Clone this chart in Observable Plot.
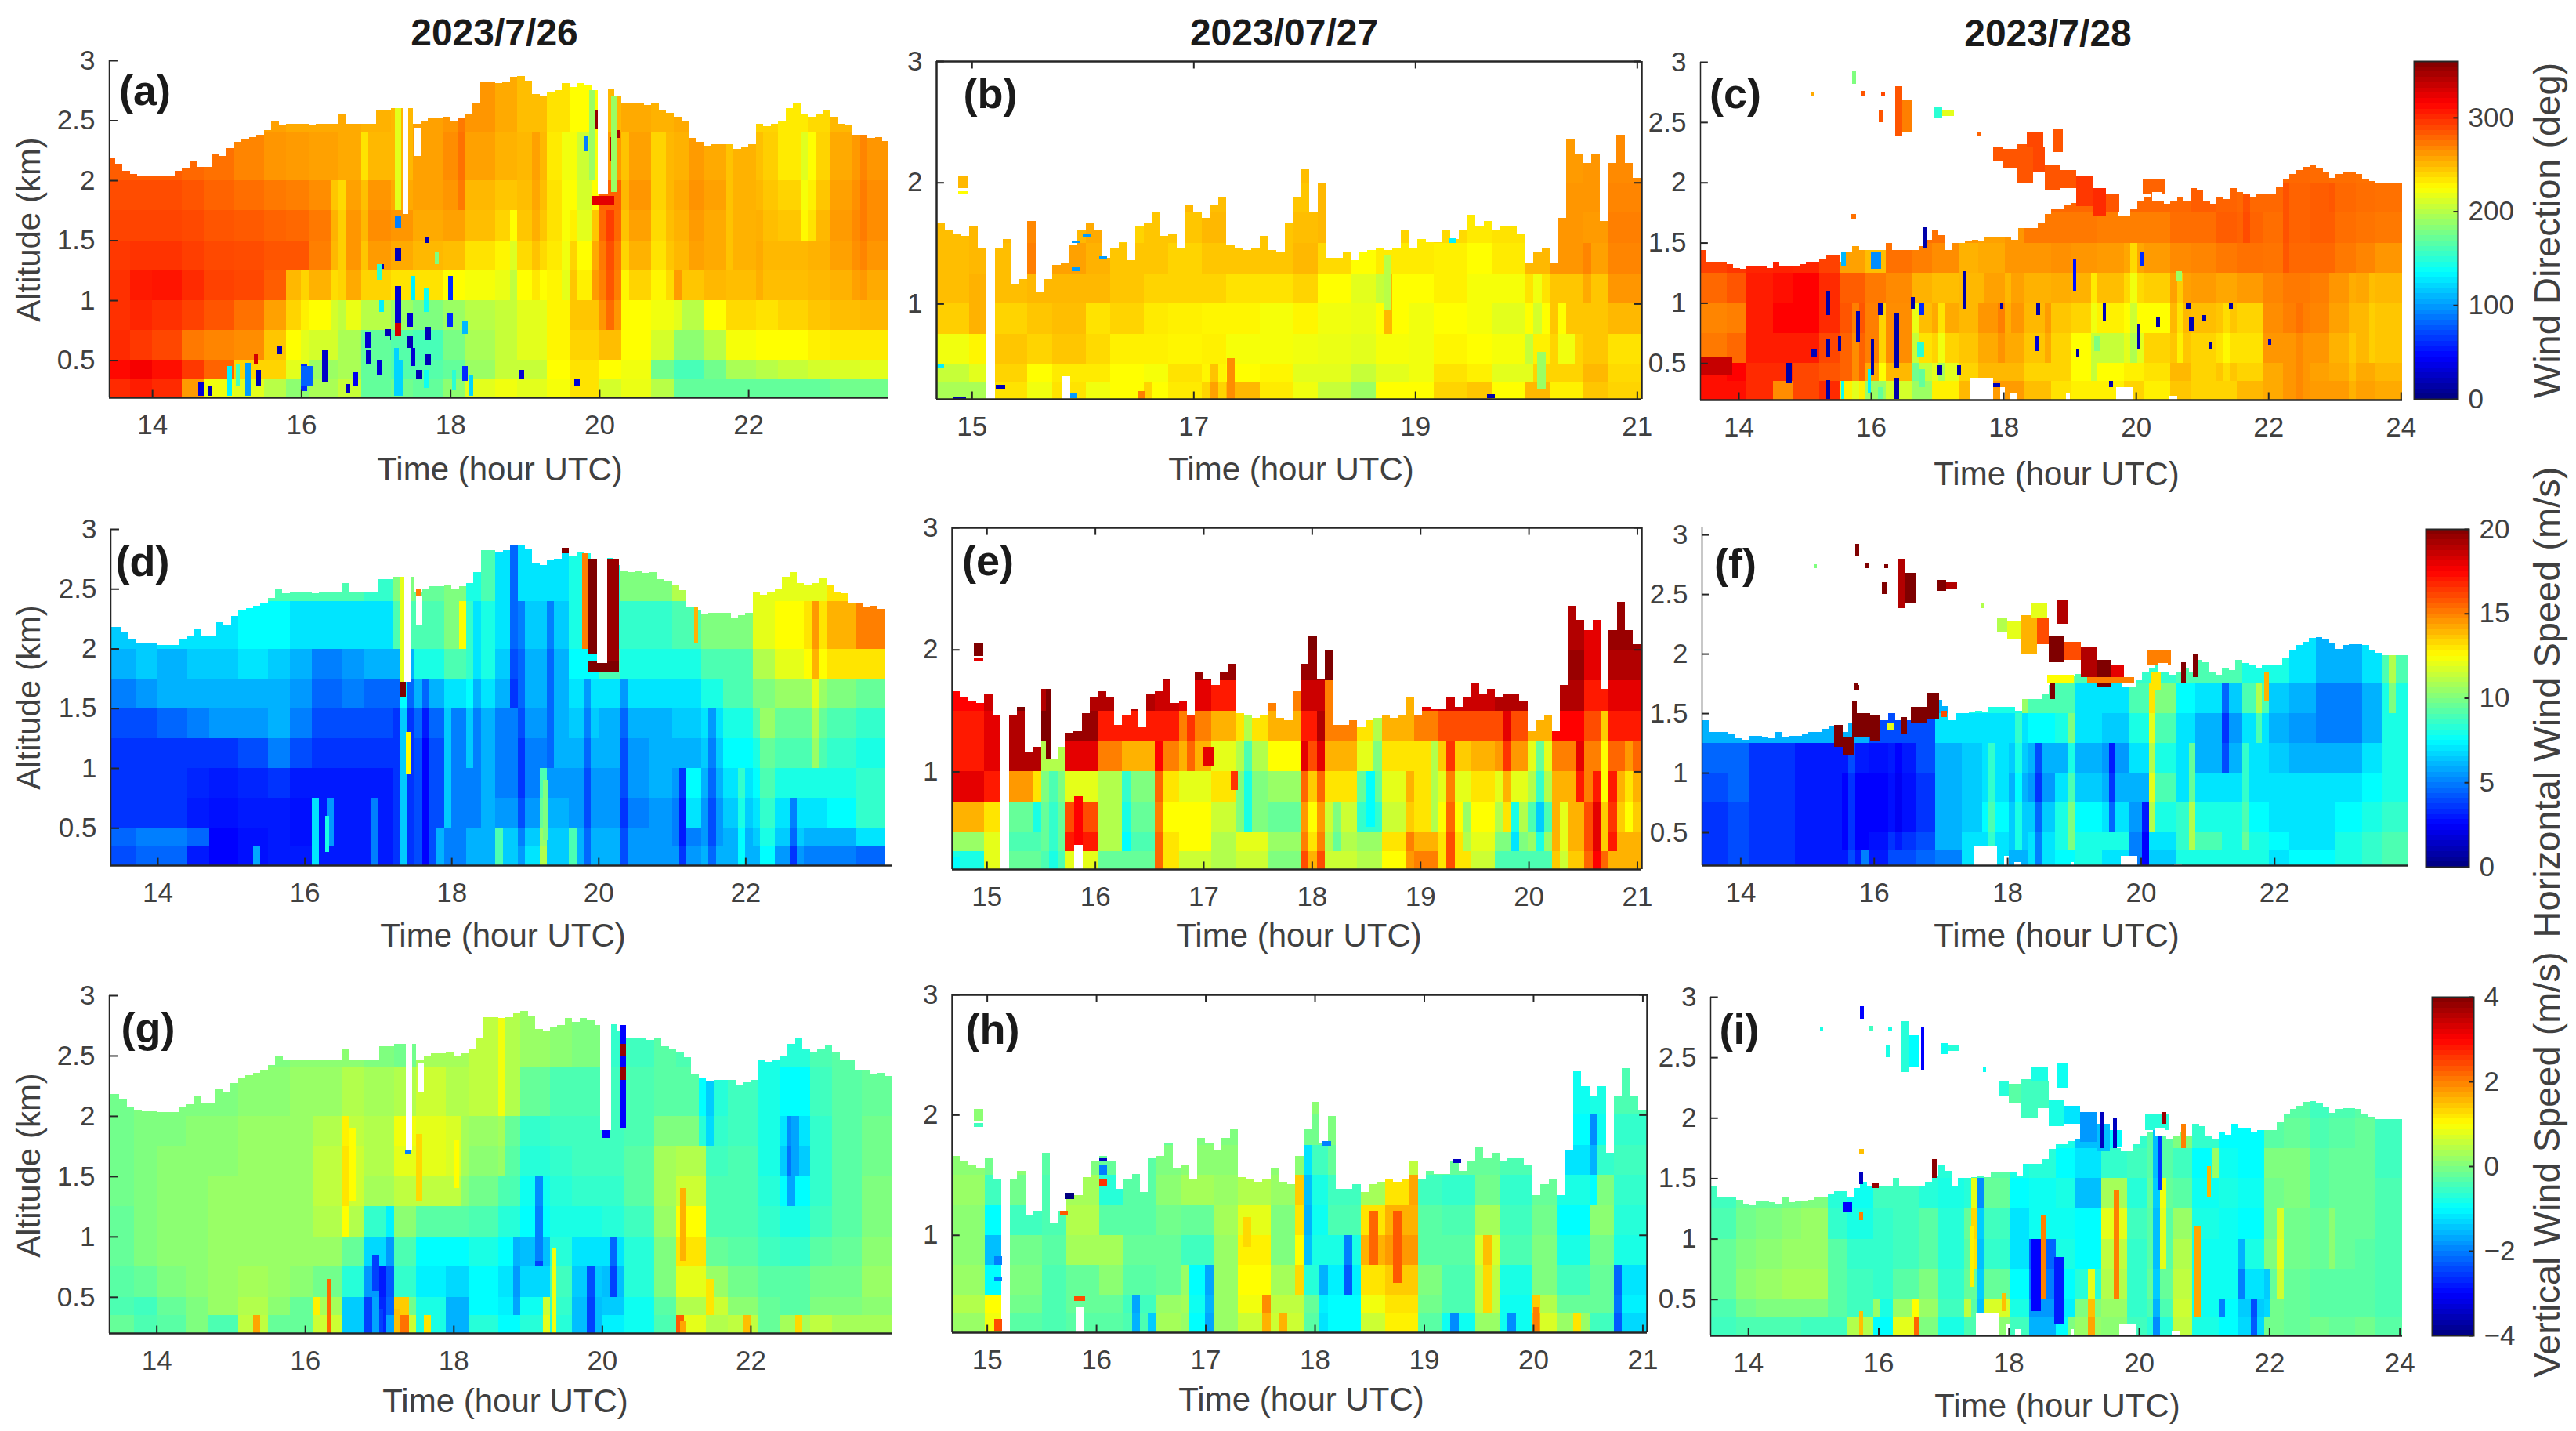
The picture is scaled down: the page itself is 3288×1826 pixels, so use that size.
<!DOCTYPE html>
<html><head><meta charset="utf-8">
<script src="https://cdn.jsdelivr.net/npm/d3@7"></script>
<script src="https://cdn.jsdelivr.net/npm/@observablehq/plot@0.6"></script>
<style>
html,body{margin:0;background:#fff}
#page{position:relative;width:3288px;height:1826px;overflow:hidden;font-family:"Liberation Sans",Arial,sans-serif;color:#404040}
#page svg{position:absolute;background:transparent;overflow:visible}
.lab{position:absolute;white-space:nowrap;line-height:1}
</style></head><body><div id="page"></div>
<script>
// ---------- altitude bands of the value grids (km) ----------
const bandEdges=[0.15,0.35,0.5,0.75,1,1.25,1.5,1.75,2,2.4,3.1];
// ---------- top of data per time column (km) ----------
const day1Top=[2.18,2.18,2.14,2.08,2.05,2.04,2.04,2.03,2.03,2.03,2.08,2.10,2.16,2.11,2.11,2.22,2.2,2.27,2.32,2.34,2.36,2.38,2.42,2.5,2.46,2.47,2.47,2.47,2.46,2.47,2.47,2.47,2.55,2.47,2.47,2.47,2.47,2.58,2.58,2.6,2.6,2.6,2.47,2.5,2.52,2.52,2.53,2.5,2.52,2.55,2.64,2.82,2.82,2.81,2.82,2.86,2.87,2.83,2.72,2.7,2.74,2.75,2.81,2.78,2.81,2.8,2.75,2.76,2.76,2.7,2.65,2.64,2.65,2.63,2.64,2.58,2.56,2.53,2.49,2.35,2.32,2.29,2.3,2.3,2.3,2.26,2.28,2.3,2.47,2.45,2.47,2.5,2.6,2.64,2.55,2.53,2.55,2.59,2.53,2.47,2.46,2.38,2.38,2.35,2.36,2.33];
const day2Top=[1.66,1.61,1.58,1.56,1.64,1.46,0,1.46,1.53,1.16,1.2,1.68,1.1,1.2,1.32,1.33,1.48,1.61,1.66,1.61,1.38,1.46,1.51,1.36,1.64,1.66,1.76,1.56,1.58,1.46,1.81,1.76,1.71,1.81,1.88,1.48,1.46,1.44,1.46,1.56,1.44,1.42,1.66,1.88,2.11,1.76,1.99,1.38,1.38,1.42,1.36,1.42,1.44,1.46,1.44,1.46,1.61,1.46,1.53,1.51,1.51,1.61,1.53,1.61,1.73,1.64,1.68,1.61,1.64,1.64,1.58,1.33,1.42,1.46,1.33,1.71,2.36,2.24,2.16,2.24,1.68,2.16,2.39,2.16,2.04];
const day3Top=[1.44,1.34,1.34,1.34,1.32,1.29,1.28,1.31,1.31,1.3,1.29,1.34,1.3,1.31,1.31,1.32,1.34,1.34,1.37,1.39,1.39,1.34,1.42,1.47,1.44,1.44,1.44,1.44,1.5,1.44,1.44,1.44,1.44,1.47,1.52,1.61,1.56,1.44,1.5,1.5,1.51,1.52,1.51,1.55,1.55,1.55,1.55,1.52,1.62,1.62,1.62,1.66,1.74,1.78,1.78,1.81,1.83,1.86,1.85,1.82,1.8,1.8,1.75,1.72,1.72,1.78,1.85,1.88,1.9,1.85,1.82,1.85,1.88,1.85,1.95,1.93,1.85,1.82,1.88,1.86,1.95,1.92,1.91,1.88,1.9,1.9,1.9,1.96,2.03,2.07,2.1,2.13,2.14,2.12,2.09,2.04,2.07,2.08,2.08,2.07,2.03,2.01,1.99,1.99,1.99,1.99,1.99];
// ---------- wind direction, 2023/7/26 (deg), rows high to low altitude ----------
const dirA=[
[270,270,270,270,270,268,258,255,255,255,252,250,258,262,262,255,248,235,225,250,255,252,255,255,250,240,232,238,250,258],
[282,282,282,278,275,268,262,260,258,255,250,250,258,265,258,252,250,232,222,260,258,250,252,255,252,242,232,240,255,262],
[288,288,288,285,280,276,272,270,265,258,262,255,258,262,250,245,248,235,225,280,262,250,255,258,252,245,240,245,258,265],
[291,291,291,289,285,283,280,278,272,262,265,262,255,258,248,240,245,235,230,278,258,248,252,255,252,248,245,250,260,265],
[295,297,297,293,289,288,285,285,270,262,260,255,250,248,235,228,238,232,240,272,252,245,250,255,252,250,250,252,258,262],
[298,306,308,300,292,290,282,250,252,255,240,235,235,225,222,218,225,228,245,270,240,238,245,250,248,248,248,250,252,255],
[298,302,298,292,285,275,258,240,225,218,200,190,180,190,200,205,215,228,245,262,225,220,200,225,238,235,240,245,248,250],
[300,295,290,272,268,265,245,225,210,195,170,165,160,178,195,205,215,228,240,248,225,210,185,200,222,225,225,230,232,232],
[312,318,310,295,280,240,240,215,190,195,170,165,165,170,190,205,205,225,235,225,220,175,160,175,195,200,205,210,212,215],
[300,305,300,260,220,215,200,185,195,205,170,175,170,185,215,220,215,222,235,210,218,200,170,170,170,170,170,170,175,175]];
const dirAExtra=[[14.62,14.7,.2,.32,30],[14.74,14.8,.2,.28,20],[15.25,15.33,.2,.48,100],[15.4,15.46,.28,.42,20],[16,16.08,.24,.47,60],[16.28,16.36,.32,.59,25],[16.86,16.93,.6,.73,30],[17.12,17.2,.67,.76,20],[17.26,17.34,1.33,1.44,20],[17.05,17.11,1.26,1.3,20],[17.26,17.34,.81,1.12,30],[17.26,17.34,.7,.81,330],[17.43,17.5,.78,.89,30],[17.43,17.5,.6,.7,20],[17.66,17.74,.67,.78,20],[17.66,17.74,.46,.55,20],[17.66,17.72,1.48,1.52,20],[17.54,17.62,.35,.42,20],[17.96,18.03,.78,.89,60],[18.16,18.24,.72,.83,110],[18.16,18.24,.33,.45,60],[18.93,18.99,.34,.42,30],[19.66,19.74,.29,.34,30],[19.9,19.98,2.43,2.58,352],[20.14,20.2,2.16,2.36,340],[19.79,19.85,2.24,2.37,90],[20.22,20.28,2.35,2.42,345],[19.9,20.2,1.8,1.87,325],[17.26,17.34,1.6,1.7,90],[19.86,19.94,2,2.75,190],[20.16,20.24,1.9,2.7,190],[17.26,17.34,1.75,2.6,215],[15.68,15.74,.55,.62,20],[16.6,16.66,.22,.3,25],[17.02,17.08,.38,.5,30],[17.3,17.36,.2,.5,120],[15.01,15.07,.2,.45,130],[15.12,15.18,.28,.47,160],[15.36,15.42,.47,.55,330],[16,16.16,.29,.45,80],[16.7,16.76,.28,.4,40],[16.87,16.93,.47,.58,25],[17.02,17.08,1.17,1.3,150],[17.05,17.11,.9,1,130],[17.13,17.19,.45,.7,170],[17.25,17.31,.2,.6,120],[17.47,17.53,1,1.2,130],[17.65,17.71,.9,1.1,140],[17.97,18.03,1,1.2,60],[17.79,17.85,1.3,1.4,180],[17.47,17.53,.45,.6,30],[17.65,17.71,.27,.42,140],[18.02,18.08,.25,.42,150],[18.25,18.31,.2,.37,120]];
const dirAStreaks=[[16.5,1.2,2,-20],[16.9,1.2,2.4,-15],[18.2,1.7,2.7,10],[18.85,.9,1.8,-15],[19.2,1,2.6,8],[19.55,.9,2.6,-12],[19.8,.9,2.6,-15],[19.97,1,1.8,15],[20.13,.8,1.8,15],[20.4,1,2.5,-12],[20.8,1,2.5,-10],[21.05,.8,1.25,15],[21.3,1.3,2.3,8],[21.75,1.3,2.3,-6],[22.2,.9,2.2,5],[22.75,1.5,2.5,-18],[22.85,1.5,2.5,-15],[23.5,1,2.3,6],[16.05,.6,1.3,-10],[16.5,.8,1.2,-15]];
const dirAGaps=[[19.98,20.12,1.88,2.9],[17.36,17.44,1.72,2.66],[17.52,17.6,2.2,2.44]];
// ---------- horizontal wind speed, 2023/7/26 (m/s) ----------
const spdD=[
[8,8,8,8,7.5,8,9,9,9,9,8.5,10,9.5,10,8,7,7,7,8,8,10,10,11,11,11,12,12,12,13,13],
[6.5,6.5,7,7,7,7.5,7.5,7,7,7,7,9,9,10,7,7,6.5,6.5,8,8,8.5,8.5,9,10,10,12,12.5,13,14,15],
[6,6.5,6,6.5,6.5,7,6.5,6,5,5.5,6,6,8,9,7,6.5,6,6,7.5,9,8,8,8,9,9,11,12,12.5,13,13],
[5,5.5,6,6,6,6,6,5.5,4.5,5,4.5,4.5,6,7,6,6,6,6,7,7,7,7,7,8,9,10,10.5,10.5,10,9.5],
[4,4,4.5,5,5.5,5.5,6,5,4,4,4,3.5,4.5,5,5,5,5.5,6,6.5,6,6,6,6.5,7,8,9,9.5,9.5,9,8.5],
[3.5,3.5,3.5,3.5,3.5,4,5,4,3.5,3.5,3.5,3.5,4,5,5,5,5,6,6,6,5.5,6,6,6.5,7.5,8,9,9,8.5,8],
[3.5,3.5,3.5,3.2,3,3.2,3.5,3,3,3,3,3.5,4,5,5,5,5,5.5,5.5,5.5,5.5,6,5.5,6,7,7.5,8,8,8,8.5],
[3.5,3.5,3.5,3,2.8,3,3,2.8,3,3,3,3.5,4,5,5,5.5,5.5,6,5.5,5.5,5,5.5,5,5.5,6.5,7,7,7,7.5,8.5],
[4.5,5,5,4.5,2.5,2.8,3,2.8,3,3,3,3.5,4,5,6,6.5,6.5,6.5,6,6,5.5,5.5,5,5.5,6,6.5,6.5,6,6,7],
[4,4.5,4.5,3,2.5,2.8,3,3,3,3,3,3.5,4,5,6,6.5,7,6.5,6,6,5.5,5.5,5.5,6,6,6,5.5,5,5,4.5]];
const spdDExtra=[[19.85,19.98,1.95,2.75,20],[20.1,20.28,1.9,2.75,19.5],[19.85,20.28,1.8,1.9,20],[19.78,19.85,2,2.8,15],[17.3,17.38,1.6,1.72,20],[17.3,17.38,1.72,2.6,12],[17.52,17.58,2.2,2.5,15],[19.5,19.6,2.8,2.84,20],[21.3,21.36,2.05,2.35,14],[17.38,17.45,.95,1.3,12.5],[16.28,16.33,.3,.6,8],[19.25,19.32,.4,.9,10]];
const spdDStreaks=[[16.2,.2,.8,4],[16.35,.3,.7,2.5],[16.93,.2,.8,2],[17.4,.2,1.7,3],[17.68,.2,1.6,-1.5],[17.87,.2,.5,2],[18.7,.2,.6,2.5],[18.93,.2,2.6,-1.5],[19.28,.2,1,4],[19.36,1,2.5,-1.5],[19.68,.2,.6,3],[19.9,.2,1.6,-1.5],[20.4,.2,1.6,-1.5],[21.1,.2,1,-2],[21.3,.5,1,2],[21.56,.2,1.5,-1.5],[21.95,.2,1,1.5],[22.3,.2,1.5,1.5],[22.65,.2,.8,-2],[22.97,1,2.3,1.5],[18.27,1,2.5,1.5],[18.5,.6,2.8,1],[18.2,2,2.5,2.5],[18.88,1.5,2.8,-2.5],[17.95,.6,1.5,1.5],[15.3,.2,.4,3]];
// ---------- vertical wind speed, 2023/7/26 (m/s) ----------
const vertG=[
[0,0,0,0,0,0,0,.1,.1,.1,0,-.1,.3,.3,.5,.4,.2,.1,0,-.6,-.5,-.3,-.4,-.5,-.5,-.8,-.7,-.4,-.3,-.2],
[-.1,0,0,0,0,.1,.1,.2,.2,.4,.3,.4,.6,.4,.5,.4,-.2,-.4,-.4,-.5,-.4,-.3,-.3,-.7,-.5,-.8,-1,-.5,-.3,-.2],
[-.1,0,0,.1,.1,.2,.2,.2,.4,.5,.4,.9,.8,.3,.2,-.2,-.6,-.5,-.5,-.5,-.4,0,0,-.6,-.5,-.8,-1.2,-.6,-.3,-.1],
[-.1,0,.1,.1,.1,.2,.2,.2,.5,.6,.4,.8,.8,.3,.1,-.3,-.7,-.6,-.5,-.5,-.3,.3,.4,-.5,-.4,-.8,-1.4,-.6,-.3,-.1],
[-.1,0,.1,.1,.2,.2,.2,.2,.5,.6,.3,.5,.5,.1,-.1,-.4,-.9,-.7,-.6,-.6,-.3,.3,.6,-.4,-.4,-.7,-1,-.6,-.3,0],
[-.2,0,.1,.1,.2,.2,.2,.2,.4,.4,-.6,.1,-.3,-.3,-.4,-.7,-1,-.8,-.8,-.7,-.5,.2,1,-.4,-.4,-.6,-.8,-.5,-.3,0],
[-.2,0,.1,.1,.2,.2,.2,.2,.2,-.2,-1.3,-.4,-1,-1,-.8,-1,-1.5,-.7,-1.2,-1.2,-.7,0,1.2,-.2,-.3,-.5,-.6,-.3,-.2,.1],
[-.3,-.2,0,.1,.2,.3,.2,.1,-.1,-.7,-1.8,-.6,-1.1,-1.3,-1,-1.2,-1.3,-.5,-1.4,-1.5,-.7,0,.8,.2,-.1,-.3,-.3,-.1,-.1,.2],
[-.4,-.5,-.2,0,.2,.4,.1,-.2,.3,-1.4,-1.7,-.1,-.8,-1.6,-1,-1.1,-.9,-.6,-1.5,-1.4,-.9,-.3,.4,.6,.1,-.2,-.3,0,0,.1],
[-.2,-.4,-.3,0,-.4,.5,-.2,-.2,.6,-1.4,-1.7,.6,-.8,-1.6,-.7,-1,-.7,-.7,-1.5,-1.1,-.9,-.4,.8,.4,.5,-.2,.3,.5,.3,.3]];
const vertGExtra=[[16.3,16.36,.2,.65,2.2],[20.25,20.32,1.9,2.75,-3],[20.25,20.32,2.5,2.6,3.8],[20.25,20.32,2.3,2.4,3.8],[20,20.1,1.82,1.88,-3],[21.05,21.12,.8,1.4,1.6],[21.05,21.12,.2,.3,1.7],[21.4,21.5,.35,.65,1.2],[16.9,17,.55,.85,-2.5],[17,17.05,.2,.4,-2.5],[17.2,17.27,.2,.4,1.5],[17.5,17.58,1.3,1.85,1.3],[19.33,19.38,.2,.9,.9],[18,18.08,1.4,1.8,1],[19.1,19.2,.8,1.2,-2],[22.55,22.65,1.5,2,-1.7],[16.6,16.68,1.3,1.9,1],[17.35,17.42,1.69,1.72,-2]];
const vertGStreaks=[[17.3,.2,.5,1.5],[17.62,.2,.3,2],[18.65,1.5,2.7,.5],[19.25,.2,.5,1.5],[19.86,.2,.8,-1],[20.2,.5,1,-1],[19.2,.7,1.4,-1],[21.4,1.8,2.3,-.7],[22.57,1.3,2,-.7],[17.03,.2,.75,-1],[16.57,1,2,.6],[16.85,.2,.45,-.8],[18,1.3,2,.4],[21.95,.2,.3,1],[22.65,.2,.3,1],[15.3,.2,.35,1.2],[16.2,.3,.5,.8],[21.05,.25,.35,1.5],[17.15,.3,1.1,-.5],[18.9,.4,1,-.6]];
// ---------- wind direction, 2023/07/27 (deg) ----------
const dirB=[
[248,250,250,250,250,250,250,250,250,250,250,250,248,250,250,250,250,250,250,250,255,260,262,266],
[248,250,250,250,250,250,248,250,250,248,250,248,245,250,250,250,240,240,240,240,250,262,262,268],
[248,250,250,252,250,255,240,245,245,250,245,245,248,250,245,240,232,238,232,235,240,262,260,270],
[248,250,248,255,258,252,245,245,240,245,245,245,250,238,225,232,232,230,225,232,250,262,258,268],
[248,252,248,250,250,250,245,240,240,240,235,235,240,225,215,225,225,230,222,222,235,245,245,262],
[242,252,240,245,248,235,240,232,230,228,228,222,228,220,218,225,220,225,222,215,225,245,245,250],
[220,228,245,240,245,238,230,230,228,230,222,222,220,218,215,222,220,228,225,222,230,240,245,235],
[205,215,240,225,232,232,225,222,235,228,225,228,215,215,205,215,220,235,230,215,240,240,250,238],
[195,195,235,220,235,220,225,225,232,240,250,232,220,205,190,225,225,240,245,225,250,230,245,240]];
const dirBExtra=[[14.88,14.97,1.95,2.05,250],[14.88,14.97,1.9,1.93,225],[14.83,14.95,.19,.23,15],[15.22,15.3,.29,.33,20],[14.69,14.75,.47,.5,130],[15.88,15.95,.22,.26,100],[15.9,15.97,1.27,1.3,100],[15.9,15.97,1.5,1.52,100],[16,16.07,1.55,1.58,100],[16.15,16.22,1.37,1.39,100],[19.3,19.37,1.5,1.54,130],[19.65,19.72,.22,.25,15],[20.22,20.3,.19,.21,10],[16.5,16.57,.2,.28,270],[17.3,17.37,.2,.55,265],[18.72,18.78,.95,1.4,200],[20.1,20.18,.3,.6,190]];
const dirBStreaks=[[17.2,.2,.5,18],[18.66,.9,1.3,-20],[18.78,.8,1.3,25],[20.04,.3,.7,-25],[20.1,.8,1.1,-15],[20.34,.5,1,-20],[20.4,.5,.8,-20],[16.57,.2,.3,15],[15.55,1.2,1.6,15],[20.53,1.1,1.35,10]];
// ---------- horizontal wind speed, 2023/07/27 (m/s) ----------
const spdE=[
[20,20,20,20,20,20,20,20,20,20,20,20,20,20,20,20,20,20,20,20,20,19,18,19.5],
[20,20,20,20,20,20,20,19.5,19.5,19.5,20,20,19.5,20,20,20,20,20,20,20,20,19.5,18,19],
[17.5,18.5,20,19,19,19,19,18.5,18,17,15,15,18.5,15,13,14,18,18.5,18.5,19,14,19,17,18],
[17,18,19,20,19.5,17,17,17,15,14,13,14,17,15,13,14,15,16,16,16,14,17.5,16,17],
[17,18,19,11,18,15,14,15,14,12,11,12.5,16,14,12,13,13,13.5,14,14.5,12,15,15,15.5],
[18,17,14.5,10,12,11,10,13,12,13,10,10.5,13.5,13,9.5,12,13,12,13,12,11,14,15,14],
[14,13,9.5,9.5,16,11,9.5,12.5,12.5,11.5,10,9.5,12.5,11.5,8.5,11.5,13,12.5,12.5,11,9,14,16,13.5],
[10.5,12,9,9.5,17,11,9,13,12.5,11,12,10.5,13,11,10.5,13,14,13,12,10,10.5,14,16,14],
[8,12,9.5,9,12,9.5,9.5,13,11.5,11,11.5,10,14,11.5,11,12.5,15,13,11.5,9,9,13.5,15.5,14]];
const spdEExtra=[[14.88,14.97,1.95,2.05,20],[14.88,14.97,1.9,1.93,18],[15.81,15.89,.4,.8,17.5],[18.5,18.58,.55,1,7.5],[14.68,14.75,.19,.3,7.5],[15.55,15.6,1.1,1.68,20],[17,17.1,1.05,1.2,18],[17.25,17.32,.85,1,16.5]];
const spdEStreaks=[[15.45,.45,.9,-1.5],[15.63,.2,1,-1],[16.3,.4,.9,-1.5],[16.6,.2,1.3,2.5],[16.85,.9,1.4,1.5],[17.4,.6,1.5,-2],[17.9,.2,1.2,2],[18.08,.2,1.4,2],[18.25,.3,.8,-1.5],[18.63,.9,1.4,-2],[18.9,.2,1,2],[19.12,.5,1.1,-2],[19.28,.2,1.3,3],[19.4,.4,.8,-2],[19.78,.5,1.4,2],[19.85,.3,.7,-3],[20.1,.3,1.3,-2.5],[20.36,.2,.8,-2],[20.47,.65,1.3,3],[20.6,.2,.9,2],[20.7,.4,1.4,-2.5],[20.77,.3,1,3],[20.94,.6,1.2,-1]];
// ---------- vertical wind speed, 2023/07/27 (m/s) ----------
const vertH=[
[0,0,0,0,0,0,0,-.3,0,0,0,0,.1,0,0,0,0,0,0,0,0,-.9,-.8,-.4],
[0,0,0,0,0,0,-.5,-.2,0,0,0,0,-.1,0,0,0,0,0,-.2,-.3,-.2,-1,-.9,-.6],
[.1,-.1,.1,-.3,0,-.2,-.3,0,.1,.1,.1,.1,-.5,-.2,-.1,0,-.2,-.2,-.2,-.4,-.2,-1.2,-.6,-.5],
[.2,-.5,-.1,-.4,.3,-.7,-.3,.1,.3,.2,.4,.2,-.8,-.5,.3,1.2,-.5,-.6,-.1,-.6,-.2,-.8,0,-.6],
[.1,-1,-.5,-.4,.4,-.3,-.3,-.1,-.2,.3,.8,0,-.9,-.4,1.2,1.6,-.3,-.4,.3,-.5,-.1,-1,.1,-.7],
[.1,-1.5,-.1,-.3,.3,.3,-.2,-.2,-.5,.2,1.1,0,-.8,-.8,1.6,1.8,-.3,-.3,.7,-.4,0,-.8,-.1,-.8],
[.2,-1,0,-.4,-.2,.1,-.3,-.2,-1,.2,1,.3,-.7,-1.1,1.2,1.4,0,-.4,.5,-.8,0,-.5,-.2,-1.2],
[.4,1,-.1,-.4,-.2,-.2,-.5,.2,-.9,.2,.9,.5,-.2,-1,.9,1.2,-.1,-.4,.5,-.9,.4,-.2,-.2,-1.1],
[.2,.9,-.3,-.4,-.3,-.3,-.4,.3,-1,.2,.6,.6,-.3,-1,.6,1.1,-.3,-.9,.2,-.9,.7,.2,-.5,-1.3]];
const vertHExtra=[[15.07,15.15,.2,.3,2.4],[15.07,15.15,.75,.82,-2],[15.07,15.15,.62,.65,-2],[15.8,15.9,.45,.49,2.4],[15.67,15.74,1.17,1.2,2.3],[15.72,15.8,1.3,1.35,-4],[16.03,16.1,1.4,1.46,2.6],[16.03,16.1,1.5,1.58,-2],[16.03,16.1,1.62,1.64,-3.5],[18.07,18.15,1.74,1.78,-2],[19.27,19.34,1.6,1.63,-3.5],[14.88,14.97,1.95,2.05,.1],[14.88,14.97,1.9,1.93,-.5],[20,20.06,.2,.4,2],[18.5,18.58,.75,1.2,2.2],[18.72,18.8,.6,1.2,2.3],[17.35,17.42,.9,1.15,1.3]];
const vertHStreaks=[[16.8,.25,.7,1.2],[17,.2,.8,-.7],[17.55,.2,.5,1],[17.7,.2,.4,1],[17.88,.6,1,1],[17.97,.8,1.8,-.7],[18.1,.2,.8,-.9],[18.3,.6,.9,-1.2],[18.83,.3,.4,.8],[19.3,.2,.3,-1],[19.6,.4,1,.8],[19.8,.2,.3,-1],[20.03,.25,.6,1],[20.4,.2,.3,1],[20.56,1.4,1.9,-1],[20.8,.2,.7,-1],[18.88,1.3,1.6,.5],[17.84,.9,1.5,1.2],[16.35,.25,.55,-1.2],[16.5,.2,.4,-1]];
const day2Gaps=[[15.14,15.21,.15,3],[15.81,15.89,.15,.4]];
// ---------- wind direction, 2023/7/28 (deg) ----------
const dirC=[
[278,278,278,278,278,278,278,278,278,278,278,278,278,278,278,278,278,278,278,278,278,278,278,278,278,278,277,276,275,275],
[278,278,278,278,278,278,278,278,278,278,278,278,278,278,278,278,278,278,278,278,278,282,280,278,278,280,282,278,276,275],
[292,292,292,292,292,292,285,282,278,275,275,262,258,262,272,272,272,270,270,270,276,276,282,280,276,280,282,276,274,272],
[292,296,302,303,302,292,258,248,275,270,265,252,255,262,262,264,262,260,256,260,266,268,272,275,274,278,278,272,268,262],
[278,285,305,310,315,300,282,272,266,252,248,250,258,258,252,254,252,248,238,242,258,260,256,260,268,272,270,262,256,250],
[268,270,305,315,315,300,285,270,265,248,255,250,262,262,250,245,240,230,225,225,250,248,245,240,265,270,268,258,250,245],
[272,278,305,305,305,290,280,270,265,235,240,245,255,255,245,240,225,205,215,240,245,240,235,235,262,262,262,252,250,245],
[310,315,300,300,290,285,280,255,250,205,215,240,250,250,240,240,225,225,230,235,250,240,245,240,255,262,258,255,255,250],
[310,310,300,265,290,300,230,190,210,190,230,250,260,260,248,235,230,230,240,230,245,240,240,250,255,262,260,260,258,255]];
const dirCExtra=[[15.33,15.38,.2,.36,15],[15.33,15.38,.55,.7,15],[15.33,15.38,.9,1.1,15],[15.78,15.83,.67,.93,20],[16,16.05,.4,.7,15],[16.34,16.42,.46,.92,15],[16.34,16.42,.2,.38,15],[14.72,14.8,.33,.5,15],[17.38,17.43,.95,1.26,15],[19.05,19.1,1.1,1.36,50],[20.02,20.07,.62,.82,20],[20.07,20.12,1.3,1.42,60],[16,16.15,1.28,1.42,95],[15.55,15.62,1.3,1.42,110],[16.78,16.85,1.45,1.63,15],[18.47,18.53,.6,.72,30],[20.8,20.87,.77,.88,20],[16.7,16.8,.55,.68,150],[16.72,16.82,.3,.45,170],[19.37,19.45,.6,.72,180],[20.6,20.7,1.18,1.26,190],[13.42,13.9,.4,.55,335],[15.1,15.18,.55,.62,20],[15.55,15.6,.2,.35,140],[17.85,17.95,.3,.33,20],[15.5,15.55,.6,.72,15],[15.95,16,.25,.45,130],[16.1,16.18,.9,1,15],[16.6,16.66,.95,1.05,15],[16.72,16.8,.9,1,60],[17.3,17.36,.4,.48,15],[17.95,18,.95,1,15],[18.5,18.56,.9,1,15],[19.1,19.15,.55,.62,15],[19.5,19.55,.85,1,20],[19.6,19.66,.3,.35,15],[20.3,20.36,.8,.88,15],[20.75,20.82,.95,1,15],[21,21.06,.85,.9,15],[21.1,21.15,.62,.68,15],[21.4,21.46,.95,1,15],[22,22.05,.65,.7,20],[17,17.08,.4,.48,15],[16.1,16.18,.2,.3,170]];
const dirCStreaks=[[16.2,.3,1,-30],[16.7,.3,.9,-30],[15.75,.2,1,-15],[21.7,1.5,1.9,8],[22.3,1.4,1.9,6],[22.95,1.3,1.9,6],[21.4,.3,1,-8],[20.65,.6,1.3,-15],[19.33,.4,1.2,-20],[18.63,.5,1,10],[17.93,.6,1,8],[18.1,.7,1.2,-8],[19.95,.6,1.4,-18],[23.25,.2,1.3,-8],[23.55,.5,1.3,-8],[22.5,.2,1,5],[17.67,.9,1.3,-8],[17.05,.4,1,-20]];
const day3Gaps=[[17.5,17.85,.15,.38],[17.95,18.02,.15,.3],[19.7,19.95,.15,.3],[18.1,18.2,.15,.25],[18.95,19,.15,.25],[20.5,20.62,.15,.23],[20.25,20.4,1.85,1.92]];
// ---------- horizontal wind speed, 2023/7/28 (m/s) ----------
const spdF=[
[6,6,6,6,6,6,6,6,6,6,6,6,6,6,6,6,6,6,8,10,9,9,9,8,7,7,6,6,7,9],
[6,6,6,6,6,6,6,6,6,6,6,6,6,6,6,10,9,9,8.5,8.5,9,9,9,8,8,7,6,6,7,9],
[6,6,6,6,6,6,6,6,6,6,6,8,8,8,9,9,7,7,9,10,7.5,7,6.5,9,6.5,6,5,5,6,8],
[6,6,6,6,6,6,6,4,4,4,7,7,7,7,7.5,8,7,6.5,8,9,7,6,5.5,7,6,5.5,5,5,6,8],
[4.5,4.5,3.5,3.5,3,3,3,2.8,3,4,6,6.5,7,6.5,6,6,6,5.5,7,8,7,6,6,7,6.5,6,6,6,7,8],
[4,4.5,3.5,3.5,3,3,2.5,2.5,2.8,3.5,6,6.5,7,6,5.5,7,6.5,6,6,9,7,7,7,7,7,7,7,7,7.5,8],
[3.5,4,3.5,3.5,3,3,2.5,2.5,2.8,3.5,6,6.5,7.5,6.5,6.5,8,7.5,7,5.5,8,8.5,8,8,7.5,7,7,7,7.5,8,8.5],
[3.5,4,3.5,3.5,3,3,2.5,2.8,3.5,4,6,7,7,6.5,7,8,8,8,5,7,8.5,9,8,8,7.5,7,7,8,8.5,9],
[3.5,4,3.5,3.5,3,3,3,3,4,4.5,5,7,7,6,7,7.5,8,7,5,6.5,8,8,8,8,7,7.5,7.5,8,8.5,9]];
const spdFExtra=[[15.4,15.55,1.22,1.4,20],[15.55,15.7,1.15,1.3,20],[15.67,15.75,1.3,1.6,20],[15.75,15.95,1.3,1.5,20],[15.95,16.1,1.27,1.48,20],[16.4,16.5,1.33,1.47,20],[16.55,16.8,1.42,1.55,20],[16.8,16.98,1.45,1.67,20],[17,17.1,1.47,1.52,16],[16.2,16.3,1.36,1.42,12],[18.65,18.72,1.62,1.75,20],[18.6,19,1.75,1.82,12.5],[19.2,19.9,1.75,1.8,15],[21.85,21.92,1.6,1.85,14],[20.15,20.3,1.7,1.85,13],[20.6,20.67,1.75,1.93,20],[20.78,20.85,1.8,2,20],[15.7,15.76,1.72,1.75,20]];
const spdFStreaks=[[17.8,.2,1.3,1.5],[18.15,.4,1.4,1.5],[18.5,.2,1.2,-2],[19,.3,1.5,2],[19.55,.6,1.2,-2.5],[20.15,.6,1.6,3],[20.07,.2,.8,-2.5],[20.77,.4,1.2,2.5],[21.3,1,1.7,-2],[21.55,.3,1.1,1.5],[21.8,1.3,1.8,2],[23.75,1.5,1.9,2],[16.4,.4,1.2,-.5],[15.7,.2,1.2,1],[15.85,.25,.4,2],[18.3,1.5,1.65,2.5]];
// ---------- vertical wind speed, 2023/7/28 (m/s) ----------
const vertI=[
[0,0,0,0,0,0,0,0,0,0,0,0,0,0,0,0,0,0,-.6,-.3,-.3,-.6,-.8,-.9,-.3,-.3,-.5,-.4,-.3,-.3],
[0,0,0,0,0,0,0,0,0,0,0,0,0,0,0,-.8,-1.5,-1,-.6,-.3,0,-.6,-1,-1,-.3,-.2,-.4,-.3,-.2,-.5],
[-.3,-.3,-.3,-.3,-.3,-.3,-.5,-.5,-.6,-.8,-.7,-.5,-.3,-.8,-.7,-1,-1.2,-.6,-.5,-.3,-.5,-1,-.9,-1,0,0,-.3,-.2,-.2,-.5],
[-.5,-.2,-.2,-.1,0,-.7,-.9,-.5,-.5,-.7,-.8,-.7,-.2,-1,-.9,-.8,-1.5,.3,-.7,-.2,-.3,-.9,-.8,-.9,-.1,0,-.3,-.2,-.2,-.4],
[-.4,-.1,0,.1,.2,-.6,-.8,-.6,-.5,-.3,-.7,-.2,-.5,-1.2,-.9,-.9,-1,.8,-.5,-.3,.2,-.8,-.9,-1,-.1,-.1,-.2,-.2,-.2,-.4],
[-.2,0,.1,.2,.2,-.3,-.6,-.6,-.5,-.3,-.7,-.3,-.6,-1.2,-2.2,-.8,-1,.5,-.6,-.3,.4,-.9,-.9,-.8,0,-.1,-.2,-.2,-.3,-.4],
[-.2,.1,.2,.3,.3,-.3,-.5,-.6,-.3,0,-.6,-.2,-.2,-1,-2,-1,-.7,.4,-.6,-.2,.5,-.9,-.9,-1.2,-.2,-.2,-.3,-.3,-.3,-.4],
[-.4,-.1,0,0,0,-.3,-.5,-.8,.2,.2,-.5,-.3,.7,-.8,-1.8,-1.1,0,.2,-.6,-.4,.6,-.9,-1,-1.4,-.1,-.2,-.3,-.3,-.3,-.4],
[-.5,-.4,-.4,-.4,-.5,-.5,.4,-1,.8,0,-.8,-.4,.1,-.5,-1.6,-1,.2,.1,-.5,-.7,.5,-.8,-1,-1.3,-.1,-.2,-.1,-.2,-.1,-.3]];
const vertIExtra=[[16.82,16.9,1.5,1.66,3.9],[15.7,15.77,1.45,1.55,-3.5],[15.9,16,1.42,1.46,3.8],[15.45,15.6,1.22,1.3,-3],[15.7,15.76,1.15,1.22,2],[19.6,19.66,1.75,2,-3.5],[19.4,19.47,1.75,2.05,-3.5],[16.65,16.7,2.4,2.75,-3],[18.5,18.58,.5,1.2,2],[19.62,19.7,.5,1.4,2],[20.85,20.95,.35,1.1,1.7],[21.05,21.1,1.35,1.6,1.6],[18.35,18.5,.4,1,-3],[18.7,18.85,.3,.85,-2.8],[20.3,20.35,1.4,1.85,-2.6],[17.9,17.95,.4,.55,1.5],[16.55,16.62,.2,.35,2.2],[15.7,15.77,.2,.4,1.5],[20.35,20.42,1.95,2.05,3.8],[20.65,20.72,1.75,1.95,2],[17.4,17.47,.6,1.1,1.1]];
const vertIStreaks=[[17.45,.8,1.4,1.5],[17.6,.4,1.4,-1.2],[19,.2,.3,1],[19.3,.2,.7,1.5],[20.25,.2,2,-1.2],[20.33,.8,1.4,1.1],[21.95,.3,.7,-1.2],[22.2,.6,1.1,.8],[21.55,.5,1,-.8],[21.3,.3,.6,-1],[21.8,.2,.6,-1],[21.15,1.5,1.7,1.2],[15.97,.3,.5,1],[16.6,.3,.6,.8],[17.4,.35,.6,.8],[23,.7,1.2,.3]];
// ---------- the detached layers of 2023/7/28 ----------
const plumeBoxes=[[15.72,15.78,2.82,2.92],[15.1,15.15,2.72,2.75],[15.86,15.92,2.72,2.76],[16.15,16.21,2.72,2.75],[16.12,16.19,2.5,2.6],[16.36,16.47,2.38,2.8],[16.47,16.62,2.42,2.68],[16.95,17.08,2.53,2.62],[17.08,17.25,2.55,2.6],[17.6,17.65,2.38,2.42],[17.85,18,2.18,2.3],[18,18.2,2.12,2.28],[18.2,18.45,2,2.32],[18.35,18.6,2.3,2.42],[18.45,18.62,2.08,2.3],[18.62,18.85,1.93,2.15],[18.75,18.9,2.25,2.45],[18.85,19.1,1.95,2.1],[19.1,19.35,1.8,2.05],[19.35,19.55,1.72,1.95],[19.55,19.75,1.76,1.9],[20.1,20.45,1.9,2.03],[15.7,15.78,1.7,1.74]];
const plumeDir=[180,255,285,290,285,285,270,150,215,280,285,285,285,290,290,285,285,285,295,300,285,280,275];
const plumeSpd=[20,10,20,20,20,19,20,20,19,11,11,12,14,12,16,20,19,16,19,20,18,15,20];
const plumeVert=[-3,-.8,-.5,-.8,-.8,-.7,-1,-.9,-.7,-.9,-.7,-.3,-.5,-.8,-.5,-.8,-.9,-1.2,-1.8,-1.5,-1,-.7,1.5];
// ---------- colour map and tick labels ----------
const jetColors=["#00007f","#0000ff","#007fff","#00ffff","#7fff7f","#ffff00","#ff7f00","#ff0000","#7f0000"];
const ticksEven14=[14,16,18,20,22], ticksEven14To24=[14,16,18,20,22,24], ticksOdd=[15,17,19,21], ticksAll=[15,16,17,18,19,20,21];
const altHalf=[0.5,1,1.5,2,2.5,3], altWhole=[1,2,3];
const dirTicks=[0,100,200,300], spdTicks=[0,5,10,15,20], vertTicks=[-4,-2,0,2,4];
const dayTitles=["2023/7/26","2023/07/27","2023/7/28"];
const timeLabel="Time (hour UTC)", altLabel="Altitude (km)";
const barTitles=["Wind Direction (deg)","Horizontal Wind Speed (m/s)","Vertical Wind Speed (m/s)"];

// ---------- layout (pixels) ----------
const day1={tops:day1Top,t0:13.3,step:.1,g0:13.35,gs:.35,bands:bandEdges,gaps:dirAGaps};
const day2={tops:day2Top,t0:14.68,step:.0748,g0:14.68,gs:.265,bands:bandEdges.slice(0,10),gaps:day2Gaps};
const day3={tops:day3Top,t0:13.42,step:.1,g0:13.42,gs:.353,bands:bandEdges.slice(0,10),gaps:day3Gaps};
const ranges={dir:[0,360],spd:[0,20],vert:[-4,4]};
const panels=[
{n:"(a)",d:day1,g:dirA,e:dirAExtra,s:dirAStreaks,r:"dir",box:[139,1133,77,507],xd:[13.42,23.87],yd:[.19,3],xt:ticksEven14,yt:altHalf,lx:185,ly:115,tx:638,ty:599},
{n:"(b)",d:day2,g:dirB,e:dirBExtra,s:dirBStreaks,r:"dir",box:[1195,2095,78,509],xd:[14.68,21.04],yd:[.214,3],xt:ticksOdd,yt:altWhole,frame:1,lx:1264,ly:119,tx:1648,ty:599},
{n:"(c)",d:day3,g:dirC,e:dirCExtra,s:dirCStreaks,r:"dir",p:plumeDir,box:[2170,3066,79,510],xd:[13.42,24.02],yd:[.196,3],xt:ticksEven14To24,yt:altHalf,lx:2215,ly:119,tx:2625,ty:605},
{n:"(d)",d:day1,g:spdD,e:spdDExtra,s:spdDStreaks,r:"spd",box:[141,1138,675,1104],xd:[13.36,23.99],yd:[.187,3],xt:ticksEven14,yt:altHalf,lx:182,ly:716,tx:642,ty:1194},
{n:"(e)",d:day2,g:spdE,e:spdEExtra,s:spdEStreaks,r:"spd",box:[1215,2095,673,1109],xd:[14.68,21.04],yd:[.2,3],xt:ticksAll,yt:altWhole,frame:1,lx:1261,ly:715,tx:1658,ty:1194},
{n:"(f)",d:day3,g:spdF,e:spdFExtra,s:spdFStreaks,r:"spd",p:plumeSpd,box:[2172,3074,673,1104],xd:[13.42,24.01],yd:[.224,3.06],xt:ticksEven14,yt:altHalf,lx:2215,ly:719,tx:2625,ty:1194},
{n:"(g)",d:day1,g:vertG,e:vertGExtra,s:vertGStreaks,r:"vert",box:[139,1138,1270,1701],xd:[13.36,23.9],yd:[.2,3],xt:ticksEven14,yt:altHalf,lx:189,ly:1311,tx:645,ty:1788},
{n:"(h)",d:day2,g:vertH,e:vertHExtra,s:vertHStreaks,r:"vert",box:[1215,2102,1269,1700],xd:[14.68,21.04],yd:[.19,3],xt:ticksAll,yt:altWhole,frame:1,lx:1267,ly:1313,tx:1661,ty:1786},
{n:"(i)",d:day3,g:vertI,e:vertIExtra,s:vertIStreaks,r:"vert",p:plumeVert,box:[2183,3066,1272,1704],xd:[13.42,24.04],yd:[.2,3],xt:ticksEven14To24,yt:altHalf,lx:2220,ly:1313,tx:2626,ty:1794}
];
const bars=[
{r:"dir",ticks:dirTicks,box:[3081,3137,78,509],title:barTitles[0],tx:3250,ty:294},
{r:"spd",ticks:spdTicks,box:[3096,3151,675,1106],title:barTitles[1],tx:3250,ty:896},
{r:"vert",ticks:vertTicks,box:[3104,3157,1272,1704],title:barTitles[2],tx:3250,ty:1486}
];
const page=document.getElementById("page");
const ink="#262626", fontFamily='"Liberation Sans",Arial,sans-serif';
function label(text,x,y,size,opts={}){
  const el=document.createElement("div");el.className="lab";el.textContent=text;
  el.style.cssText=`left:${x}px;top:${y}px;font-size:${size}px;font-weight:${opts.bold?700:400};color:${opts.color||"#404040"};transform:translate(-50%,-50%)${opts.rot?" rotate(-90deg)":""}`;
  page.appendChild(el);
}
function colourScale(r){
  const [a,b]=ranges[r];
  return {type:"linear",domain:jetColors.map((_,i)=>a+(b-a)*i/(jetColors.length-1)),range:jetColors,clamp:true};
}
function cells(d,grid,streaks){
  const out=[],nb=grid.length;
  d.tops.forEach((top,i)=>{
    if(!top)return;
    const x1=d.t0+i*d.step,x2=x1+d.step,c=(x1+x2)/2;
    const j=Math.max(0,Math.floor((c-d.g0)/d.gs));
    const here=streaks.filter(s=>s[0]>=x1&&s[0]<x2);
    for(let k=0;k<nb;k++){
      const lo=d.bands[k],hi=d.bands[k+1];
      if(lo>=top)break;
      const row=grid[nb-1-k];
      let v=row[Math.min(j,row.length-1)];
      for(const s of here){
        if((Math.min(hi,s[2])-Math.max(lo,s[1]))/(hi-lo)>=.4) v+=s[3];
      }
      out.push({x1,x2,y1:lo,y2:Math.min(top,hi),v});
    }
  });
  return out;
}
const asRect=a=>({x1:a[0],x2:a[1],y1:a[2],y2:a[3],v:a[4]});
const M={l:70,r:24,t:24,b:60};
for(const p of panels){
  const [L,R,T,B]=p.box,[x0,x1]=p.xd,[y0,y1]=p.yd;
  const opts={x1:"x1",x2:"x2",y1:"y1",y2:"y2",fill:"v",clip:true,shapeRendering:"crispEdges"};
  const plume=p.p?plumeBoxes.map((b,i)=>({x1:b[0],x2:b[1],y1:b[2],y2:b[3],v:p.p[i]})):[];
  const tickX=(y1-y0)*.022,tickY=(x1-x0)*.011;
  const marks=[
    Plot.rect(cells(p.d,p.g,p.s),opts),
    Plot.rect(plume,opts),
    Plot.rect(p.e.map(asRect),opts),
    Plot.rect(p.d.gaps.map(g=>({x1:g[0],x2:g[1],y1:g[2],y2:g[3]})),{x1:"x1",x2:"x2",y1:"y1",y2:"y2",fill:"white",clip:true,shapeRendering:"crispEdges"}),
    Plot.ruleY([y0],{stroke:ink,strokeWidth:2.5}),
    Plot.ruleX([x0],{stroke:ink,strokeWidth:p.frame?2.5:1.5}),
    Plot.ruleX(p.xt.filter(t=>t>=x0&&t<=x1),{x:d=>d,y1:y0,y2:y0+tickX,stroke:ink,strokeWidth:2}),
    Plot.ruleY(p.yt,{y:d=>d,x1:x0,x2:x0+tickY,stroke:ink,strokeWidth:2}),
    Plot.axisX({ticks:p.xt.filter(t=>t<=x1+.05),tickSize:0,tickPadding:22,tickFormat:d=>String(d),anchor:"bottom",label:null}),
    Plot.axisY({ticks:p.yt,tickSize:0,tickPadding:18,tickFormat:d=>String(d),anchor:"left",label:null})
  ];
  if(p.frame) marks.push(
    Plot.ruleY([y1],{stroke:ink,strokeWidth:2.5}),
    Plot.ruleX([x1],{stroke:ink,strokeWidth:2.5}),
    Plot.ruleX(p.xt,{x:d=>d,y1:y1,y2:y1-tickX,stroke:ink,strokeWidth:2}),
    Plot.ruleY(p.yt,{y:d=>d,x1:x1,x2:x1-tickY,stroke:ink,strokeWidth:2})
  );
  const svg=Plot.plot({width:R-L+M.l+M.r,height:B-T+M.t+M.b,marginLeft:M.l,marginRight:M.r,marginTop:M.t,marginBottom:M.b,
    x:{domain:p.xd,label:null},y:{domain:p.yd,label:null},color:colourScale(p.r),
    style:{fontFamily,fontSize:"35px",color:"#404040",background:"transparent",overflow:"visible"},marks});
  svg.style.left=(L-M.l)+"px";svg.style.top=(T-M.t)+"px";
  page.appendChild(svg);
  label(timeLabel,p.tx,p.ty,42);
  label(p.n,p.lx,p.ly,54,{bold:true,color:"#1a1a1a"});
}
for(const b of bars){
  const [L,R,T,B]=b.box,[a,z]=ranges[b.r],n=64,st=(z-a)/n;
  const levels=d3.range(n).map(i=>({y1:a+i*st,y2:a+(i+1)*st,v:a+(i+.5)*st}));
  const svg=Plot.plot({width:R-L+M.l+M.r+70,height:B-T+M.t*2,marginLeft:M.l,marginRight:M.r+70,marginTop:M.t,marginBottom:M.t,
    x:{domain:[0,1],axis:null},y:{domain:ranges[b.r],label:null},color:colourScale(b.r),
    style:{fontFamily,fontSize:"35px",color:"#404040",background:"transparent",overflow:"visible"},
    marks:[
      Plot.rect(levels,{x1:0,x2:1,y1:"y1",y2:"y2",fill:"v",shapeRendering:"crispEdges"}),
      Plot.ruleY(b.ticks,{y:d=>d,x1:.9,x2:1,stroke:ink,strokeWidth:2}),
      Plot.frame({stroke:ink,strokeWidth:2}),
      Plot.axisY({ticks:b.ticks,anchor:"right",tickSize:0,tickPadding:13,label:null})
    ]});
  svg.style.left=(L-M.l)+"px";svg.style.top=(T-M.t)+"px";
  page.appendChild(svg);
  label(b.title,b.tx,b.ty,47,{rot:true});
}
[[631,42],[1639,42],[2614,43]].forEach((c,i)=>label(dayTitles[i],c[0],c[1],48,{bold:true,color:"#1a1a1a"}));
[293,890,1487].forEach(y=>label(altLabel,37,y,42,{rot:true}));
</script></body></html>
